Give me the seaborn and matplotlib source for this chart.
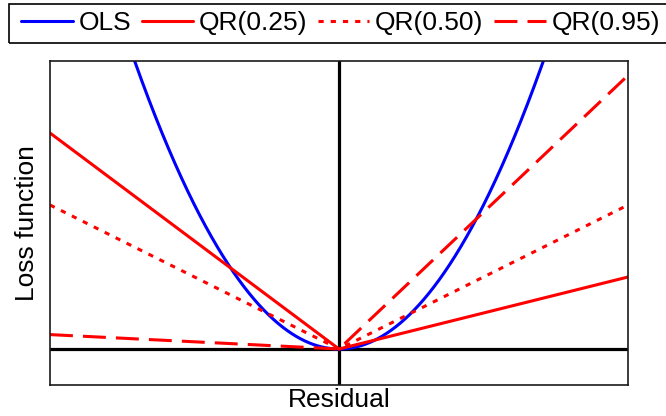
import numpy as np
import pandas as pd
import matplotlib
matplotlib.use("Agg")
import matplotlib.pyplot as plt
from matplotlib.patches import Rectangle
import seaborn as sns

# Model settings
quantiles = [0.25, 0.50, 0.95]
qr_labels = ["QR(0.25)", "QR(0.50)", "QR(0.95)"]
ols_label = "OLS"
ols_scale = 2.0
residual_range = [-1.0, 1.0]
loss_range = [-0.125, 1.0]

# Residual grid on which the loss functions are evaluated
residuals = np.linspace(residual_range[0], residual_range[1], 2001)

frames = [pd.DataFrame({"Residual": residuals,
                        "Loss": ols_scale * residuals ** 2,
                        "Model": ols_label})]
for tau, lab in zip(quantiles, qr_labels):
    check = residuals * (tau - (residuals < 0))
    frames.append(pd.DataFrame({"Residual": residuals, "Loss": check, "Model": lab}))
df = pd.concat(frames, ignore_index=True)

sns.set_style("white")
plt.rcParams["font.family"] = ["Liberation Sans", "DejaVu Sans"]
plt.rcParams["text.color"] = "black"
plt.rcParams["axes.labelcolor"] = "black"

W, H = 666, 416
fig = plt.figure(figsize=(W / 100, H / 100), dpi=100)
ax = fig.add_axes([50 / W, 31 / H, 578 / W, 324 / H])

order = [ols_label] + qr_labels
palette = {ols_label: "#0000ff", qr_labels[0]: "#ff0000",
           qr_labels[1]: "#ff0000", qr_labels[2]: "#ff0000"}
dashes = {ols_label: "", qr_labels[0]: "", qr_labels[1]: (1.7, 2.3),
          qr_labels[2]: (7.5, 3.3)}

sns.lineplot(data=df, x="Residual", y="Loss", hue="Model", style="Model",
             hue_order=order, style_order=order, palette=palette,
             dashes=dashes, linewidth=2.2, ax=ax, legend=True)

# Reference axes through the origin
ax.axhline(0, color="black", linewidth=2.3, zorder=1)
ax.axvline(0, color="black", linewidth=2.3, zorder=1)

ax.set_xlim(residual_range)
ax.set_ylim(loss_range)
ax.set_xticks([])
ax.set_yticks([])
for sp in ax.spines.values():
    sp.set_color("#1a1a1a")
    sp.set_linewidth(1.2)
    sp.set_visible(True)

ax.set_xlabel("Residual", fontsize=19, labelpad=2)
ax.set_ylabel("Loss function", fontsize=19, labelpad=8)

# Legend row across the top; its box runs off the right edge of the figure
handles, labels = ax.get_legend_handles_labels()
ax.get_legend().remove()
leg = fig.legend(handles, labels, loc="upper left",
                 bbox_to_anchor=(13.8 / W, 1 - 4 / H),
                 bbox_transform=fig.transFigure, ncol=4, fontsize=19,
                 frameon=False, handlelength=1.95, handletextpad=0.22,
                 columnspacing=0.4, borderpad=0.28, borderaxespad=0)
for line in leg.get_lines():
    line.set_linewidth(2.2)

fig.patches.append(Rectangle((9.3 / W, 1 - 42.7 / H), 700 / W, 38.7 / H,
                             transform=fig.transFigure, fill=False,
                             edgecolor="black", linewidth=1.2))

fig.savefig("out.png", dpi=100)
